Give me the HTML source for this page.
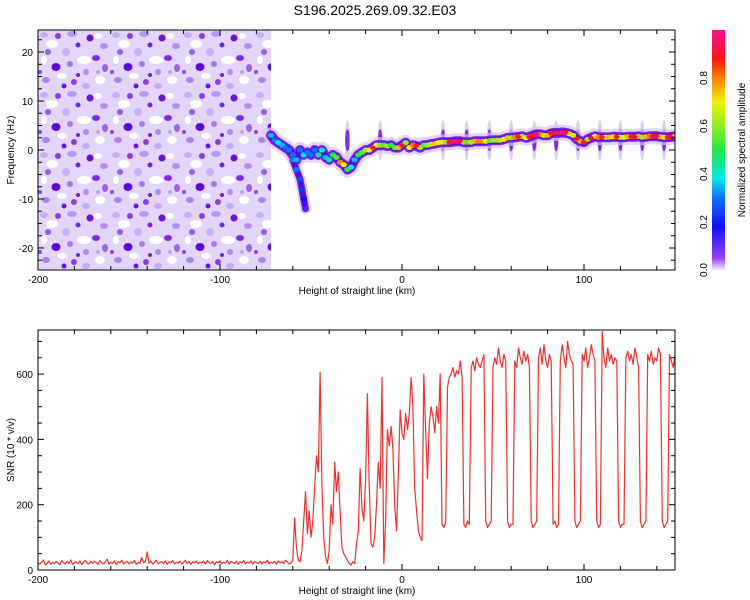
<!DOCTYPE html>
<html><head><meta charset="utf-8"><style>
body{margin:0;background:#fff;}
svg{display:block;font-family:"Liberation Sans",sans-serif;}
</style></head><body>
<svg id="c" width="750" height="600" viewBox="0 0 750 600" xmlns="http://www.w3.org/2000/svg">
<defs>
<pattern id="noise" x="38" y="30" width="72" height="60" patternUnits="userSpaceOnUse">
<rect width="72" height="60" fill="#e4d5fa"/>
<ellipse cx="14" cy="14" rx="6" ry="4" fill="#fff"/>
<ellipse cx="46" cy="30" rx="7" ry="4" fill="#fff"/>
<ellipse cx="62" cy="50" rx="5" ry="4" fill="#fff"/>
<ellipse cx="24" cy="46" rx="5" ry="3" fill="#fff"/>
<ellipse cx="60" cy="6" rx="4" ry="3" fill="#fff"/>
<ellipse cx="6" cy="30" rx="3" ry="4" fill="#fff"/>
<ellipse cx="6" cy="5" rx="4" ry="3" fill="#c9acf5"/>
<ellipse cx="20" cy="6" rx="3" ry="3" fill="#8a3fe6"/>
<ellipse cx="34" cy="4" rx="5" ry="3" fill="#b896f2"/>
<ellipse cx="52" cy="8" rx="3.5" ry="3.5" fill="#6a10e0"/>
<ellipse cx="66" cy="16" rx="4" ry="3" fill="#b58df0"/>
<ellipse cx="10" cy="22" rx="3" ry="3" fill="#9a5ced"/>
<ellipse cx="28" cy="22" rx="4" ry="4" fill="#cbb0f5"/>
<ellipse cx="40" cy="15" rx="2.5" ry="2.5" fill="#7424e4"/>
<ellipse cx="58" cy="28" rx="4" ry="3" fill="#7d2ce3"/>
<ellipse cx="32" cy="34" rx="3" ry="3" fill="#a978ee"/>
<ellipse cx="18" cy="37" rx="4.5" ry="4" fill="#5a0ae0"/>
<ellipse cx="48" cy="42" rx="3" ry="3" fill="#b48bf0"/>
<ellipse cx="67" cy="38" rx="3" ry="4" fill="#9c64eb"/>
<ellipse cx="8" cy="50" rx="4" ry="3" fill="#ad84f0"/>
<ellipse cx="36" cy="52" rx="3" ry="3" fill="#8b40e6"/>
<ellipse cx="48" cy="56" rx="4" ry="3" fill="#c6a8f4"/>
<ellipse cx="40" cy="45" rx="2" ry="2" fill="#7420e2"/>
<ellipse cx="2" cy="42" rx="2" ry="2" fill="#8d48e8"/>
<ellipse cx="26" cy="56" rx="2.5" ry="2.5" fill="#6614e2"/>
<ellipse cx="60" cy="42" rx="2" ry="2" fill="#bfa0f3"/>
</pattern>
<linearGradient id="cmap" x1="0" y1="1" x2="0" y2="0">
<stop offset="0" stop-color="#f4ecff"/><stop offset="0.05" stop-color="#9a40ff"/>
<stop offset="0.18" stop-color="#1010ff"/><stop offset="0.3" stop-color="#1070ff"/>
<stop offset="0.38" stop-color="#00e8f0"/><stop offset="0.5" stop-color="#20e840"/>
<stop offset="0.6" stop-color="#90f020"/><stop offset="0.7" stop-color="#f0f000"/>
<stop offset="0.8" stop-color="#ff8000"/><stop offset="0.88" stop-color="#ff1010"/>
<stop offset="1" stop-color="#ff1090"/>
</linearGradient>
<clipPath id="clipTop"><rect x="38" y="30" width="637" height="240"/></clipPath>
<clipPath id="clipBot"><rect x="38" y="330" width="637" height="240"/></clipPath>
</defs>
<text x="375" y="15" font-size="14" text-anchor="middle">S196.2025.269.09.32.E03</text>
<g id="topPanel"></g>
<g id="botPanel"></g>
<g id="cbarPanel"></g>
</svg>
<script>
// ---- data ----
const snrStartKm = -200;
const snrValues = [
22,18,25,30,15,20,28,17,24,19,
26,21,16,29,23,18,27,20,31,17,
22,25,19,28,16,24,30,21,18,26,
20,27,23,17,29,22,19,25,33,18,
24,20,28,16,26,22,30,19,23,27,
18,25,21,29,17,24,20,38,22,26,
55,21,27,18,24,30,19,23,26,20,
28,17,25,22,29,19,24,21,27,18,
23,30,20,26,17,25,22,28,19,24,
21,27,18,29,23,20,26,16,25,22,
28,19,24,21,30,18,26,23,20,27,
17,25,22,29,19,24,21,28,18,26,
23,20,27,18,25,22,30,19,24,21,
26,18,28,22,25,
20,30,25,18,22,30,160,70,30,25,
60,150,240,110,180,100,150,250,350,300,
605,260,100,40,20,60,200,140,330,240,
300,180,70,50,40,30,20,15,25,20,
80,120,310,190,150,280,540,260,80,70,
100,200,330,250,590,20,150,430,380,440,
370,200,120,300,490,420,400,480,430,480,
590,500,250,180,120,100,90,600,420,280,
450,500,470,420,500,450,600,140,130,145,
560,590,600,620,590,610,600,640,590,140,
130,150,140,620,640,610,650,630,620,640,
660,150,130,140,150,620,650,630,680,640,
620,660,640,150,130,140,140,640,620,680,
650,630,670,640,660,620,150,130,140,150,
650,680,630,690,640,620,660,640,140,150,
130,140,640,690,650,620,700,660,640,630,
150,130,140,150,660,640,680,620,650,690,
660,640,150,130,140,730,650,620,680,640,
660,630,650,640,150,130,140,140,650,670,
640,660,630,680,650,620,150,130,140,150,
660,640,670,630,650,640,680,660,150,130,
140,150,660,640,620,660];
const ridgeStartKm = -72;
const ridgeStepKm = 2;
const ridgeFreq = [3,2,1.5,1,0.5,0, -1,-2,0,-1,-0.5,-1, 0,-1,0,-1.5,-2,-1, -1.5,-2.5,-3,-4,-3.5,-2,
 -1,-0.5,0,0,0.5,1, 1,1,0.8,1,0.5,0.5, 1,1.5,0.5,1,0.8,0.5, 1,1,1.2,1.3,1.5,1.6,
 1.6,1.6,1.7,1.8,1.8,1.6, 1.6,1.6,1.8,1.8,1.8,1.8, 1.9,2,2,2,2.2,2.5, 2.5,2.6,2.7,2.8,2.5,2.7,
 3,3.2,3.2,3,3,3.4, 3.5,3.5,3.6,3.5,3.3,3, 2.2,1.8,1.6,2.2,2.5,2.8, 2.6,2.6,2.6,2.6,2.7,2.7,
 2.6,2.6,2.7,2.7,2.7,2.8, 2.6,2.7,2.8,2.8,2.8,2.7, 2.6,2.6,2.7,2.8];
const ridgeAmp = [.35,.3,.4,.35,.3,.3, .3,.35,.3,.4,.3,.3, .3,.45,.4,.35,.45,.5, .55,.8,.7,.5,.4,.35,
 .5,.55,.6,.7,.85,.7, .6,.55,.6,.5,.55,.75, .85,.6,.7,.8,.9,.6, .55,.6,.65,.75,.7,.7,
 .6,.85,.95,.95,.9,.6, .55,.65,.75,.8,.8,.7, .55,.6,.6,.65,.7,.75, .6,.8,.85,.6,.7,.85,
 .9,.95,.8,.7,.75,.85, .9,.95,.95,.9,.7,.65, .85,.75,.9,.6,.9,.7, .8,.9,.7,.75,.7,.85,
 .65,.7,.75,.85,.9,.75, .6,.75,.8,.9,.9,.75, .7,.85,.9,.7];
const branchKm = [-60,-58,-56,-55,-54,-53];
const branchFreq = [-2,-4,-6,-8,-10,-12];
const branchAmp = [.3,.3,.25,.22,.18,.12];
const streakKm = [-30,-12,22.5,35.5,48,60,72.7,84.7,96.7,108.7,120,132,144];
const xTicks = [-200,-100,0,100];
const freqTicks = [-20,-10,0,10,20];
const snrTicks = [0,200,400,600];
const cbarTicks = ["0.0","0.2","0.4","0.6","0.8"];

// ---- scales ----
const X0=38,X1=675,KM0=-200,KM1=150;
const xs = k => X0+(k-KM0)/(KM1-KM0)*(X1-X0);
const T0=30,T1=270,F0=-24.5,F1=24.5;
const yf = f => T1-(f-F0)/(F1-F0)*(T1-T0);
const B0=330,B1=570,S1=735;
const ys = v => B1-v/S1*(B1-B0);
const NS="http://www.w3.org/2000/svg";
function mk(tag,attrs,parent){const e=document.createElementNS(NS,tag);for(const k in attrs)e.setAttribute(k,attrs[k]);parent.appendChild(e);return e;}
function colorOf(a){
  const st=[[0,[244,236,255]],[.05,[154,64,255]],[.18,[16,16,255]],[.3,[16,112,255]],[.38,[0,232,240]],[.5,[32,232,64]],[.6,[144,240,32]],[.7,[240,240,0]],[.8,[255,128,0]],[.88,[255,16,16]],[1,[255,16,144]]];
  for(let i=1;i<st.length;i++){if(a<=st[i][0]){const t=(a-st[i-1][0])/(st[i][0]-st[i-1][0]);const c=st[i-1][1].map((v,j)=>Math.round(v+(st[i][1][j]-v)*t));return `rgb(${c.join(',')})`;}}
  return "rgb(255,16,144)";
}
const topG=document.getElementById('topPanel'), botG=document.getElementById('botPanel'), cbG=document.getElementById('cbarPanel');

// ---- spectrogram ----
const tg=mk('g',{'clip-path':'url(#clipTop)'},topG);
const nz=mk('rect',{x:X0,y:T0,width:xs(-72)-X0,height:T1-T0,fill:'url(#noise)'},tg);


streakKm.forEach(k=>{
  const e=mk('ellipse',{cx:xs(k),cy:yf(2),rx:2.5,ry:20,fill:'#c8a8f5',opacity:0.6},tg);
  
  
  mk('ellipse',{cx:xs(k),cy:yf(2),rx:2.2,ry:11,fill:'#6a10e6',opacity:0.85},tg);
});
const ridgePts=ridgeFreq.map((f,i)=>xs(ridgeStartKm+i*ridgeStepKm).toFixed(1)+','+yf(f).toFixed(1)).join(' ');
const branchPts=branchKm.map((k,i)=>xs(k).toFixed(1)+','+yf(branchFreq[i]).toFixed(1)).join(' ');
[[16,'#d8c2f8',0.7],[10,'#7a28ea',1],[7,'#5008e8',1]].forEach(([w,c,o])=>{
  mk('polyline',{points:ridgePts,fill:'none',stroke:c,'stroke-width':w,opacity:o,'stroke-linejoin':'round','stroke-linecap':'round'},tg);
  mk('polyline',{points:branchPts,fill:'none',stroke:c,'stroke-width':w*0.7,opacity:o,'stroke-linejoin':'round','stroke-linecap':'round'},tg);
});
const rg=mk('g',{},tg);


function blob(k,f,a,g){
  const c=mk('ellipse',{cx:xs(k),cy:yf(f),rx:3.2,ry:2.6,fill:colorOf(a)},g);
  
  
}
branchKm.forEach((k,i)=>blob(k,branchFreq[i],branchAmp[i],rg));
ridgeFreq.forEach((f,i)=>blob(ridgeStartKm+i*ridgeStepKm,f,ridgeAmp[i],rg));
ridgeFreq.forEach((f,i)=>{const a=ridgeAmp[i];if(a>0.8)mk('ellipse',{cx:xs(ridgeStartKm+i*ridgeStepKm),cy:yf(f),rx:2.6,ry:1.5,fill:colorOf(Math.min(1,a+0.04))},rg);});

// ---- SNR ----
const bg=mk('g',{'clip-path':'url(#clipBot)'},botG);
const pts=snrValues.map((v,i)=>xs(snrStartKm+i).toFixed(1)+','+ys(v).toFixed(1)).join(' ');
const ln=mk('polyline',{points:pts,fill:'none',stroke:'#f03030','stroke-width':1.2,'stroke-linejoin':'round'},bg);



// ---- axes ----
function frame(g,y0,y1,name){
  const r=mk('rect',{x:X0,y:y0,width:X1-X0,height:y1-y0,fill:'none',stroke:'#000','stroke-width':1},g);
  
  
  for(let k=-200;k<=150;k+=20){const x=xs(k);const L=(k%100===0)?6:4;
    mk('line',{x1:x,y1:y1,x2:x,y2:y1-L,stroke:'#000'},g);mk('line',{x1:x,y1:y0,x2:x,y2:y0+L,stroke:'#000'},g);}
  xTicks.forEach(k=>{const t=mk('text',{x:xs(k),y:y1+13,'font-size':10,'text-anchor':'middle'},g);t.textContent=k;
    
    });
  const xl=mk('text',{x:357,y:y1+24,'font-size':10,'text-anchor':'middle'},g);xl.textContent='Height of straight line (km)';
  
  
}
frame(topG,T0,T1,'spectrogram-frame');
frame(botG,B0,B1,'snr-frame');
for(let f=-22.5;f<=22.5;f+=2.5){const y=yf(f);const L=(f%10===0)?6:4;
  mk('line',{x1:X0,y1:y,x2:X0+L,y2:y,stroke:'#000'},topG);mk('line',{x1:X1,y1:y,x2:X1-L,y2:y,stroke:'#000'},topG);}
freqTicks.forEach(f=>{const t=mk('text',{x:33,y:yf(f)+4,'font-size':10,'text-anchor':'end'},topG);t.textContent=f;
  
  });
const fy=mk('text',{x:0,y:0,'font-size':10,'text-anchor':'middle',transform:'translate(14,150) rotate(-90)'},topG);fy.textContent='Frequency (Hz)';


for(let v=50;v<=700;v+=50){const y=ys(v);const L=(v%200===0)?6:4;
  mk('line',{x1:X0,y1:y,x2:X0+L,y2:y,stroke:'#000'},botG);mk('line',{x1:X1,y1:y,x2:X1-L,y2:y,stroke:'#000'},botG);}
snrTicks.forEach(v=>{const t=mk('text',{x:33,y:ys(v)+4,'font-size':10,'text-anchor':'end'},botG);t.textContent=v;
  
  });
const sy=mk('text',{x:0,y:0,'font-size':10,'text-anchor':'middle',transform:'translate(14,450) rotate(-90)'},botG);sy.textContent='SNR (10 * v/v)';



// ---- colorbar ----
const cr=mk('rect',{x:712,y:30,width:13,height:240,fill:'url(#cmap)'},cbG);


cbarTicks.forEach((s,i)=>{const y=270-i*0.2*240;const t=mk('text',{x:0,y:0,'font-size':10,'text-anchor':'middle',transform:`translate(707,${y}) rotate(-90)`},cbG);t.textContent=s;
  
  });
const cl=mk('text',{x:0,y:0,'font-size':10,'text-anchor':'middle',transform:'translate(745,150) rotate(-90)'},cbG);cl.textContent='Normalized spectral amplitude';


</script>
</body></html>
